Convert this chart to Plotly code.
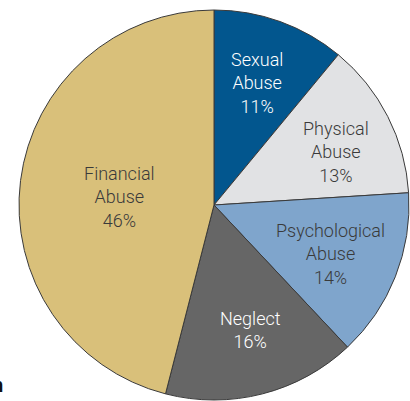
import plotly.graph_objects as go

# Share of reported elder abuse cases by type
labels = ["Sexual<br>Abuse", "Physical<br>Abuse", "Psychological<br>Abuse", "Neglect", "Financial<br>Abuse"]
values = [11, 13, 14, 16, 46]
colors = ["#02568E", "#E1E2E4", "#7FA5CC", "#666666", "#D9C07A"]
text_colors = ["#FFFFFF", "#3A3A3A", "#3A3A3A", "#FFFFFF", "#3A3A3A"]

W, H = 410, 401
cx, cy, r = 214, 205, 195

fig = go.Figure(go.Pie(
    labels=labels,
    values=values,
    sort=False,
    direction="clockwise",
    rotation=0,
    marker=dict(colors=colors, line=dict(color="#3a3a3a", width=1)),
    textinfo="none",
    hoverinfo="label+percent",
    showlegend=False,
    domain=dict(x=[(cx - r) / W, (cx + r) / W], y=[1 - (cy + r) / H, 1 - (cy - r) / H]),
))

# label centres in pixel coordinates
label_pos = [(257, 83), (336, 152), (330, 254), (250, 330), (120, 197)]
for lab, val, col, (px, py) in zip(labels, values, text_colors, label_pos):
    fig.add_annotation(
        x=px / W, y=1 - py / H, xref="paper", yref="paper",
        text=f"{lab}<br>{val}%", showarrow=False,
        font=dict(family="Roboto", size=18, color=col, weight=300),
        align="center", xanchor="center", yanchor="middle",
    )

# trailing glyph of a caption running off the left edge
fig.add_annotation(
    x=5 / W, y=1 - 385 / H, xref="paper", yref="paper", text="n", showarrow=False,
    font=dict(family="Roboto", size=20, color="#111111", weight="bold"),
    xanchor="right", yanchor="middle",
)

fig.update_layout(
    width=W, height=H,
    margin=dict(l=0, r=0, t=0, b=0),
    paper_bgcolor="white", plot_bgcolor="white",
)

fig.write_html("out.html")
